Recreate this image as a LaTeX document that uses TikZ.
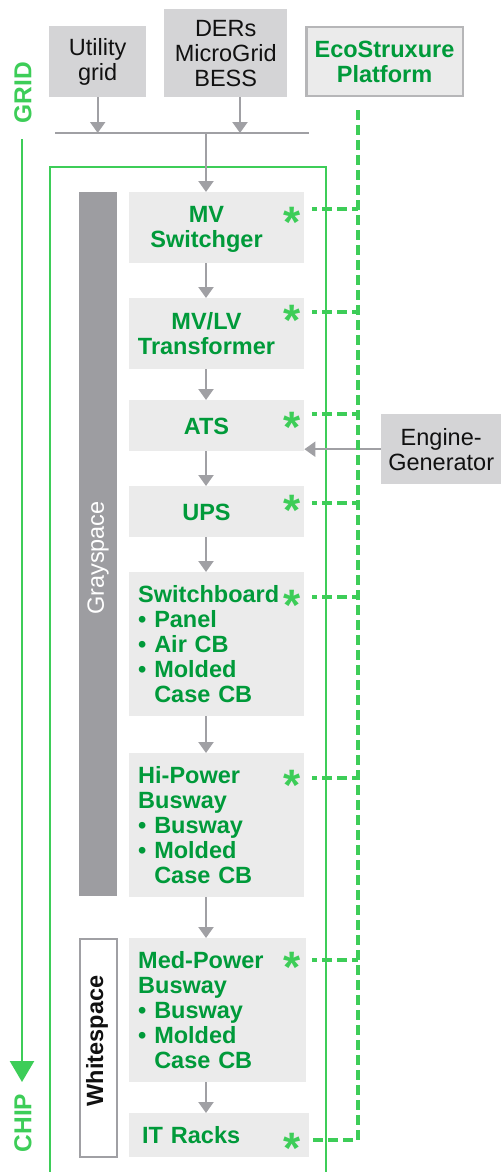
\documentclass[tikz,border=0pt]{standalone}
\usepackage{fontspec}
\setmainfont{Liberation Sans}
\usetikzlibrary{arrows.meta}
\definecolor{lgreen}{HTML}{3DCD58}
\definecolor{dgreen}{HTML}{009A3A}
\definecolor{arrgray}{HTML}{A0A0A4}
\definecolor{topfill}{HTML}{D4D4D6}
\definecolor{boxfill}{HTML}{EBEBEB}
\definecolor{barfill}{HTML}{9D9DA1}
\definecolor{ecoborder}{HTML}{B6B6B8}
\definecolor{txt}{HTML}{111111}
\begin{document}
\begin{tikzpicture}[x=1pt,y=-1pt,
  fs/.style={font=\fontsize{23.5}{25}\selectfont},
  fsb/.style={font=\fontsize{23.5}{25}\selectfont\bfseries},
  srcbox/.style={fs, fill=topfill, text=txt, inner sep=0pt, align=center, anchor=north west},
  compbox/.style={fill=boxfill, inner sep=0pt, anchor=north west},
  ctext/.style={fsb, text=dgreen, inner sep=0pt, align=center},
  ltext/.style={compbox, fsb, text=dgreen, align=left},
  ast/.style={inner sep=0pt, anchor=north, text=lgreen, font=\fontsize{44}{44}\selectfont\bfseries},
  garrow/.style={draw=arrgray, line width=2.2pt, -{Triangle[width=15pt,length=11pt]}},
  gline/.style={draw=arrgray, line width=2.2pt},
  gdash/.style={draw=lgreen, line width=3.5pt, dash pattern=on 10pt off 5pt},
  gframe/.style={draw=lgreen, line width=2.5pt},
  sidelabel/.style={font=\fontsize{24.5}{25}\selectfont\bfseries, rotate=90, text=lgreen, inner sep=0pt},
]
\useasboundingbox (0,0) rectangle (501,1172);

% green frame
\draw[gframe] (50,1180) -- (50,167) -- (326,167) -- (326,1180);

% sources
\node[srcbox, minimum width=97pt, minimum height=71pt] (util) at (49,26) {Utility\\grid};
\node[srcbox, minimum width=123pt, minimum height=88pt] (ders) at (164,9) {DERs\\MicroGrid\\BESS};
\node[draw=ecoborder, line width=2.5pt, fill=boxfill, minimum width=156.5pt, minimum height=68.5pt, inner sep=0pt, fsb, text=dgreen, align=center] (eco) at (384.5,61.5) {EcoStruxure\\Platform};
\node[srcbox, minimum width=120pt, minimum height=70pt] (eng) at (381,414) {Engine-\\Generator};

% side bars
\node[fill=barfill, inner sep=0pt, minimum width=38pt, minimum height=704pt, anchor=north west] (gbar) at (79,192) {};
\node[fs, rotate=90, text=white, inner sep=0pt] (grayT) at (98,558) {Grayspace};
\node[draw=arrgray, line width=2pt, fill=white, inner sep=0pt, minimum width=37pt, minimum height=218pt] (wbox) at (98.5,1048) {};
\node[fsb, rotate=90, text=txt, inner sep=0pt] (whiteT) at (97,1041) {Whitespace};

% components
\node[compbox, minimum width=175pt, minimum height=71pt] (mv) at (129,192) {};
\node[ctext] (mvT) at (206.5,229) {MV\\Switchger};
\node[compbox, minimum width=175pt, minimum height=71pt] (mvlv) at (129,298) {};
\node[ctext] (mvlvT) at (206.5,334) {MV/LV\\Transformer};
\node[compbox, minimum width=175pt, minimum height=51pt] (ats) at (129,400) {};
\node[ctext] (atsT) at (206.5,426.5) {ATS};
\node[compbox, minimum width=175pt, minimum height=51pt] (ups) at (129,486) {};
\node[ctext] (upsT) at (206.5,512) {UPS};
\node[ltext, minimum width=175pt, minimum height=144pt, text width=157pt, inner xsep=9pt] (sb) at (129,572) {Switchboard\\• Panel\\• Air CB\\• Molded\\\phantom{• }Case CB};
\node[ltext, minimum width=175pt, minimum height=144pt, text width=157pt, inner xsep=9pt] (hp) at (129,753) {Hi-Power\\Busway\\• Busway\\• Molded\\\phantom{• }Case CB};
\node[ltext, minimum width=177pt, minimum height=144pt, text width=159pt, inner xsep=9pt] (mp) at (129,938) {Med-Power\\Busway\\• Busway\\• Molded\\\phantom{• }Case CB};
\node[ltext, minimum width=180pt, minimum height=44pt, text width=154pt, inner xsep=13pt] (it) at (129,1113) {IT Racks};

% bus and arrows
\coordinate (busL) at (55,133);
\coordinate (busR) at (309,133);
\coordinate (busM) at (206,133);
\coordinate (dersA) at (240,97);
\draw[gline] (busL) -- (busR);
\draw[garrow] (util.south) -- (util.south |- busL);
\draw[garrow] (dersA) -- (dersA |- busL);
\draw[garrow] (busM) -- (busM |- mv.north);
\draw[garrow] (mv.south -| busM) -- (mvlv.north -| busM);
\draw[garrow] (mvlv.south -| busM) -- (ats.north -| busM);
\draw[garrow] (ats.south -| busM) -- (ups.north -| busM);
\draw[garrow] (ups.south -| busM) -- (sb.north -| busM);
\draw[garrow] (sb.south -| busM) -- (hp.north -| busM);
\draw[garrow] (hp.south -| busM) -- (mp.north -| busM);
\draw[garrow] (mp.south -| busM) -- (it.north -| busM);
\draw[garrow] (eng.west) -- (eng.west -| ats.east);

% grid to chip
\node[sidelabel] (grid) at (23,92.5) {GRID};
\node[sidelabel] (chip) at (23,1123) {CHIP};
\coordinate (gtop) at (22,139);
\coordinate (gbot) at (22,1082);
\draw[draw=lgreen, line width=2.5pt, -{Triangle[width=24pt,length=21pt]}] (gtop) -- (gbot);

% asterisks
\foreach \n/\y in {1/207,2/305,3/412,4/495,5/590,6/770,7/952,8/1133}
  \node[ast] (a\n) at (292.5,\y) {*};

% dashed monitoring links
\coordinate (vtop) at (358,110);
\coordinate (vbot) at (358,1140);
\coordinate (h8) at (312,1140);
\draw[gdash] (vtop) -- (vbot) -- (h8);
\foreach \n/\y in {1/209,2/312,3/414,4/503,5/597,6/778,7/960}{
  \coordinate (h\n) at (312,\y);
  \draw[gdash, dash phase=5pt] (h\n) -- (h\n -| vtop);
}
\end{tikzpicture}
\end{document}
